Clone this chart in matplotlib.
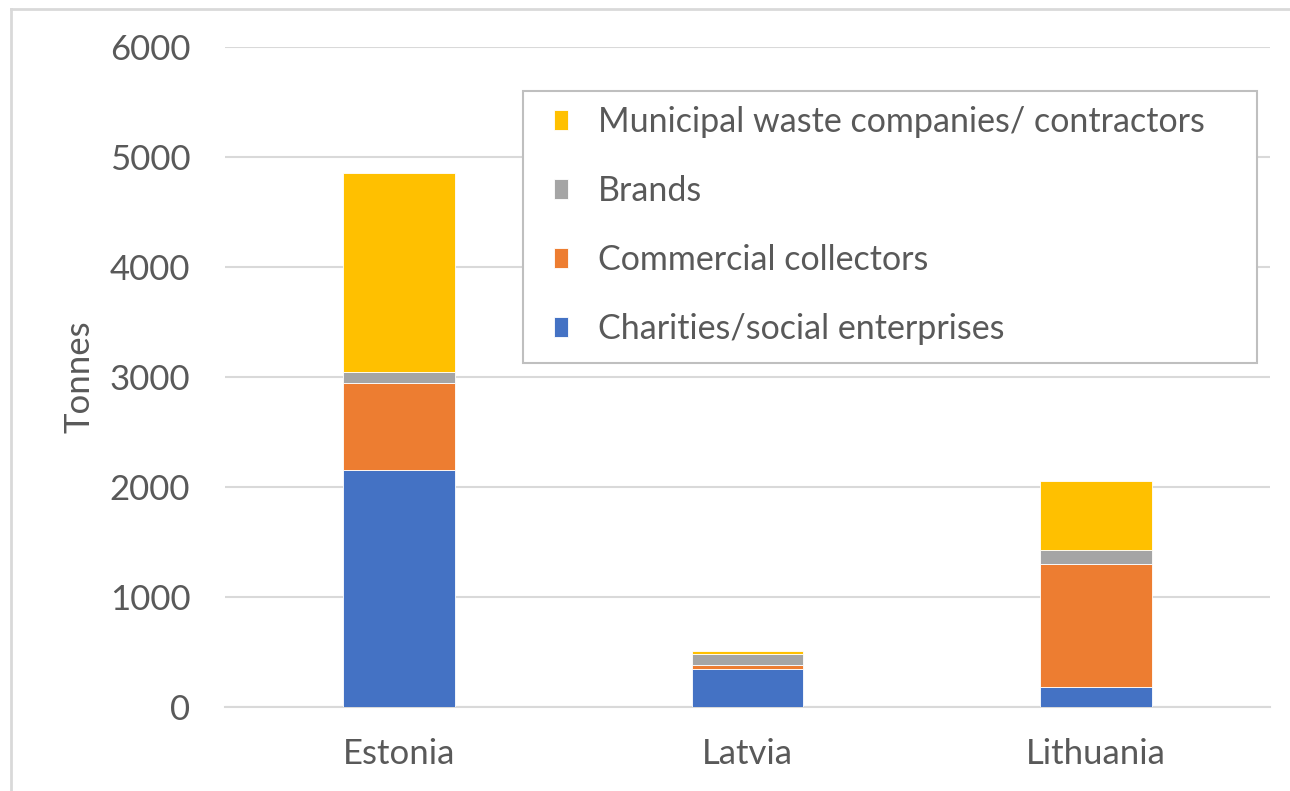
import numpy as np
import matplotlib
matplotlib.use("Agg")
import matplotlib.pyplot as plt
from matplotlib.lines import Line2D
from matplotlib.patches import Rectangle

# data (tonnes)
countries = ["Estonia", "Latvia", "Lithuania"]
charities = [2155, 345, 185]
commercial = [790, 37, 1118]
brands = [100, 100, 127]
municipal = [1810, 30, 627]

series = [
    ("Charities/social enterprises", charities, "#4472C4"),
    ("Commercial collectors", commercial, "#ED7D31"),
    ("Brands", brands, "#A5A5A5"),
    ("Municipal waste companies/ contractors", municipal, "#FFC000"),
]

plt.rcParams['font.family'] = ['Lato', 'DejaVu Sans']
txt = "#595959"
W, H = 1290, 791

fig = plt.figure(figsize=(12.9, 7.91), dpi=100)
ax = fig.add_axes([225 / W, 1 - 707 / H, 1045 / W, 660 / H])

x = np.arange(len(countries))
bottom = np.zeros(len(countries))
handles = []
for name, vals, col in series:
    b = ax.bar(x, vals, width=0.32, bottom=bottom, color=col, label=name,
               edgecolor="white", linewidth=0.6, zorder=3)
    handles.append(b)
    bottom += np.array(vals)

ax.set_xlim(-0.5, 2.5)
ax.set_ylim(0, 6000)
ax.set_yticks(range(0, 6001, 1000))
ax.yaxis.grid(True, color="#d9d9d9", linewidth=1.5, zorder=0)
ax.set_xticks(x)
ax.set_xticklabels(countries)
ax.tick_params(axis="both", length=0, labelsize=25, colors=txt)
ax.tick_params(axis="y", pad=25)
ax.tick_params(axis="x", pad=22)
for s in ["top", "right", "left"]:
    ax.spines[s].set_visible(False)
ax.spines["bottom"].set_color("#d9d9d9")
ax.spines["bottom"].set_linewidth(1.5)
ax.set_ylabel("Tonnes", fontsize=25, color=txt, labelpad=10)

# legend entries without frame, box drawn separately
leg = ax.legend(handles[::-1], [s[0] for s in series][::-1],
                loc="upper left",
                bbox_to_anchor=((554 - 225) / 1045, (707 - 106) / 660),
                fontsize=24.5, frameon=False, labelcolor=txt,
                handlelength=0.4, handleheight=0.5, handletextpad=0.9,
                labelspacing=1.09, borderpad=0, borderaxespad=0)
fig.add_artist(Rectangle((523 / W, 1 - 363 / H), (1257 - 523) / W, (363 - 91) / H,
                         transform=fig.transFigure, fill=True, facecolor="white",
                         edgecolor="#bfbfbf", linewidth=1.5, zorder=1))
leg.set_zorder(5)
leg.remove()
fig.add_artist(leg)

# light border on the top and left of the chart area
fig.add_artist(Line2D([11 / W, 11 / W], [0, 1 - 9 / H],
                      transform=fig.transFigure, color="#d9d9d9", lw=2))
fig.add_artist(Line2D([11 / W, 1], [1 - 9 / H, 1 - 9 / H],
                      transform=fig.transFigure, color="#d9d9d9", lw=2))

fig.savefig("out.png", dpi=100)
